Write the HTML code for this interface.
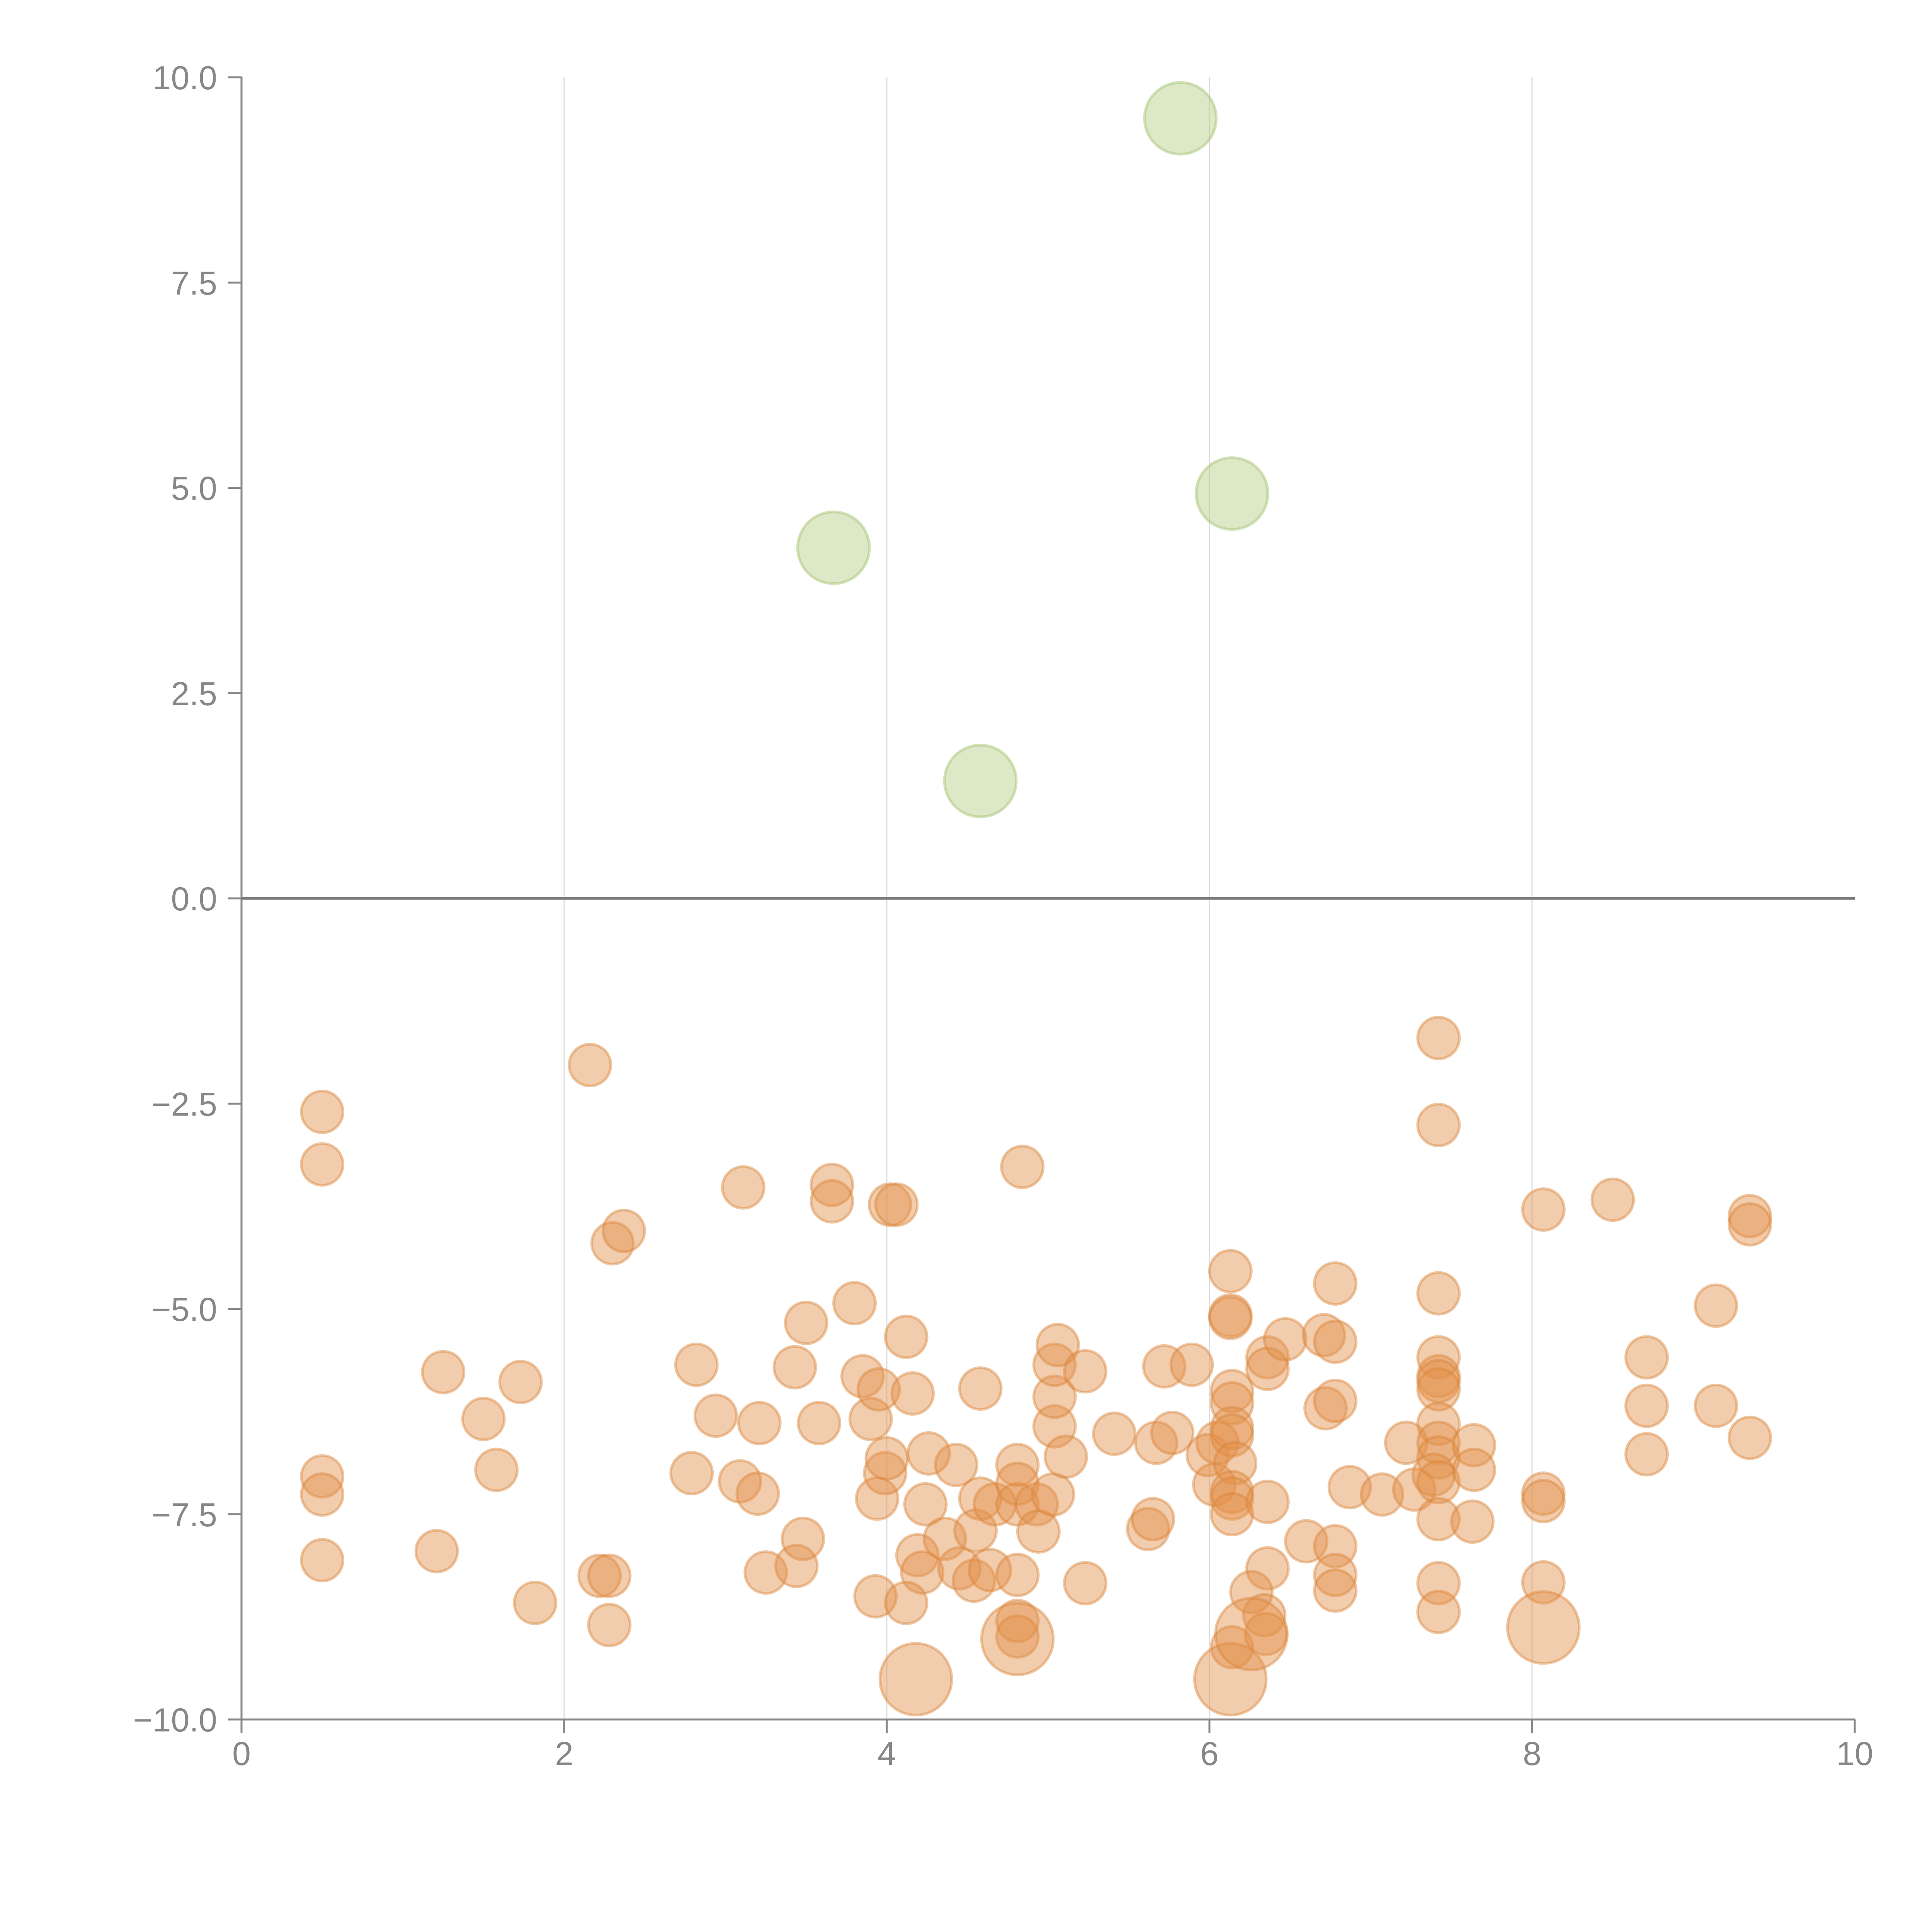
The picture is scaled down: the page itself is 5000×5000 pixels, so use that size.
<!DOCTYPE html>
<html><head><meta charset="utf-8"><style>
html,body{margin:0;padding:0;background:#fff;}
svg{display:block;}
text{font-family:"Liberation Sans",Arial,sans-serif;fill:#878787;}
</style></head><body>
<svg id="chart" width="5000" height="5000" viewBox="0 0 5000 5000">
<g id="grid"></g>
<g id="axes"></g>
<g id="bubbles"></g>
</svg>
<script>
const xTicks = [0, 2, 4, 6, 8, 10];
const yTicks = [-10, -7.5, -5, -2.5, 0, 2.5, 5, 7.5, 10];
const yTickLabels = ["\u221210.0", "\u22127.5", "\u22125.0", "\u22122.5", "0.0", "2.5", "5.0", "7.5", "10.0"];

const greenX = [5.82, 6.14, 3.67, 4.58];
const greenY = [9.5, 4.93, 4.27, 1.43];

const bigX = [4.18, 4.81, 6.13, 6.26, 8.07];
const bigY = [-9.51, -9.02, -9.51, -8.96, -8.88];

const orangeX = [0.5,0.5,0.5,0.5,0.5,2.16,1.25,1.5,1.73,1.58,1.21,1.82,2.22,2.28,2.28,2.3,2.37,2.82,2.94,2.79,3.09,3.2,3.21,3.11,3.25,3.44,3.48,3.43,3.5,3.58,3.66,3.66,3.8,3.85,3.9,3.95,3.94,3.99,4.0,3.93,4.02,4.06,4.12,4.16,4.26,4.24,4.19,4.22,4.12,4.36,4.43,4.45,4.54,4.55,4.58,4.58,4.67,4.64,4.81,4.81,4.81,4.81,4.81,4.81,4.84,4.93,4.94,5.03,5.04,5.04,5.04,5.06,5.11,5.23,5.23,5.41,5.62,5.65,5.67,5.72,5.77,5.89,5.99,6.05,6.03,6.13,6.13,6.13,6.14,6.14,6.14,6.14,6.16,6.14,6.14,6.14,6.14,6.36,6.36,6.36,6.47,6.36,6.26,6.34,6.35,6.6,6.71,6.72,6.78,6.78,6.78,6.78,6.78,6.78,6.87,7.07,7.22,7.27,7.42,7.42,7.42,7.42,7.42,7.42,7.42,7.42,7.42,7.42,7.39,7.42,7.42,7.42,7.42,7.64,7.64,7.63,8.07,8.07,8.07,8.07,8.5,8.71,8.71,8.71,9.14,9.14,9.35,9.35,9.35];
const orangeY = [-2.6,-3.24,-7.04,-7.26,-8.06,-2.03,-5.77,-6.34,-5.89,-6.96,-7.95,-8.58,-8.25,-8.25,-8.85,-4.2,-4.05,-5.68,-6.3,-7.0,-7.1,-7.25,-6.39,-3.52,-8.21,-8.13,-7.8,-5.71,-5.17,-6.39,-3.49,-3.69,-4.93,-5.82,-6.34,-5.98,-7.31,-7.0,-6.82,-8.5,-3.73,-3.73,-5.34,-6.03,-6.76,-7.38,-8.0,-8.21,-8.58,-7.8,-6.9,-8.16,-8.31,-7.7,-5.97,-7.31,-7.38,-8.18,-6.9,-7.13,-7.38,-8.24,-8.8,-8.99,-3.27,-7.38,-7.71,-7.26,-6.43,-6.07,-5.68,-5.44,-6.8,-5.76,-8.34,-6.52,-7.68,-7.56,-6.63,-5.7,-6.51,-5.68,-6.78,-6.63,-7.14,-4.54,-5.08,-5.11,-6.0,-6.15,-6.45,-6.54,-6.88,-7.23,-7.31,-7.5,-9.12,-7.35,-5.59,-5.73,-5.37,-8.16,-8.45,-8.73,-8.96,-7.83,-5.32,-6.21,-4.69,-5.4,-6.12,-7.89,-8.24,-8.43,-7.17,-7.26,-6.63,-7.2,-1.7,-2.76,-4.81,-5.59,-5.82,-5.88,-5.98,-6.4,-6.63,-6.81,-7.02,-7.11,-7.56,-8.34,-8.69,-6.66,-6.96,-7.59,-3.79,-7.25,-7.34,-8.33,-3.67,-5.59,-6.18,-6.77,-4.96,-6.18,-3.87,-3.97,-6.57];

const smallSize = 1.0, bigSize = 1.72;

const X0 = 625, X1 = 4800, Y0 = 4450, Y1 = 200;
function sx(v){ return X0 + (v - 0) / 10 * (X1 - X0); }
function sy(v){ return Y0 - (v + 10) / 20 * (Y0 - Y1); }
function rs(s){ return 54 * s; }

const NS = "http://www.w3.org/2000/svg";
function mk(tag, attrs, parent){
  const e = document.createElementNS(NS, tag);
  for (const k in attrs) e.setAttribute(k, attrs[k]);
  parent.appendChild(e);
  return e;
}
const grid = document.getElementById('grid');
const axes = document.getElementById('axes');
const bub = document.getElementById('bubbles');

xTicks.forEach(function(t){
  if (t > 0 && t < 10) {
    const gl = mk('line', {x1:sx(t), x2:sx(t), y1:Y1, y2:Y0, stroke:'#dcdcdc', 'stroke-width':3}, grid);
    
    
  }
  const tk = mk('line', {x1:sx(t), x2:sx(t), y1:Y0, y2:Y0+35, stroke:'#878787', 'stroke-width':5}, axes);
  
  
  const tx = mk('text', {x:sx(t), y:4568, 'text-anchor':'middle', 'font-size':86}, axes);
  tx.textContent = String(t);
  
  
});
yTicks.forEach(function(t, i){
  const tk = mk('line', {x1:X0-35, x2:X0, y1:sy(t), y2:sy(t), stroke:'#878787', 'stroke-width':5}, axes);
  
  
  const tx = mk('text', {x:562, y:sy(t)+31, 'text-anchor':'end', 'font-size':86}, axes);
  tx.textContent = yTickLabels[i];
  
  
});
const ya = mk('line', {x1:X0, x2:X0, y1:Y1, y2:Y0, stroke:'#878787', 'stroke-width':5}, axes);


const xa = mk('line', {x1:X0, x2:X1, y1:Y0, y2:Y0, stroke:'#878787', 'stroke-width':5}, axes);


const zl = mk('line', {x1:X0, x2:X1, y1:sy(0), y2:sy(0), stroke:'#7a7a7a', 'stroke-width':7}, axes);



function bubble(x, y, s, fill, stroke, name){
  const c = mk('circle', {cx:sx(x), cy:sy(y), r:rs(s), fill:fill, 'fill-opacity':0.45, stroke:stroke, 'stroke-opacity':0.45, 'stroke-width':7}, bub);
  
  
}
orangeX.forEach(function(x, i){ bubble(x, orangeY[i], smallSize, '#e39149', '#d9843a', 'orange-bubble'); });
bigX.forEach(function(x, i){ bubble(x, bigY[i], bigSize, '#e39149', '#d9843a', 'orange-large-bubble'); });
greenX.forEach(function(x, i){ bubble(x, greenY[i], bigSize, '#b3cd82', '#9fc26a', 'green-bubble'); });
</script>
</body></html>
